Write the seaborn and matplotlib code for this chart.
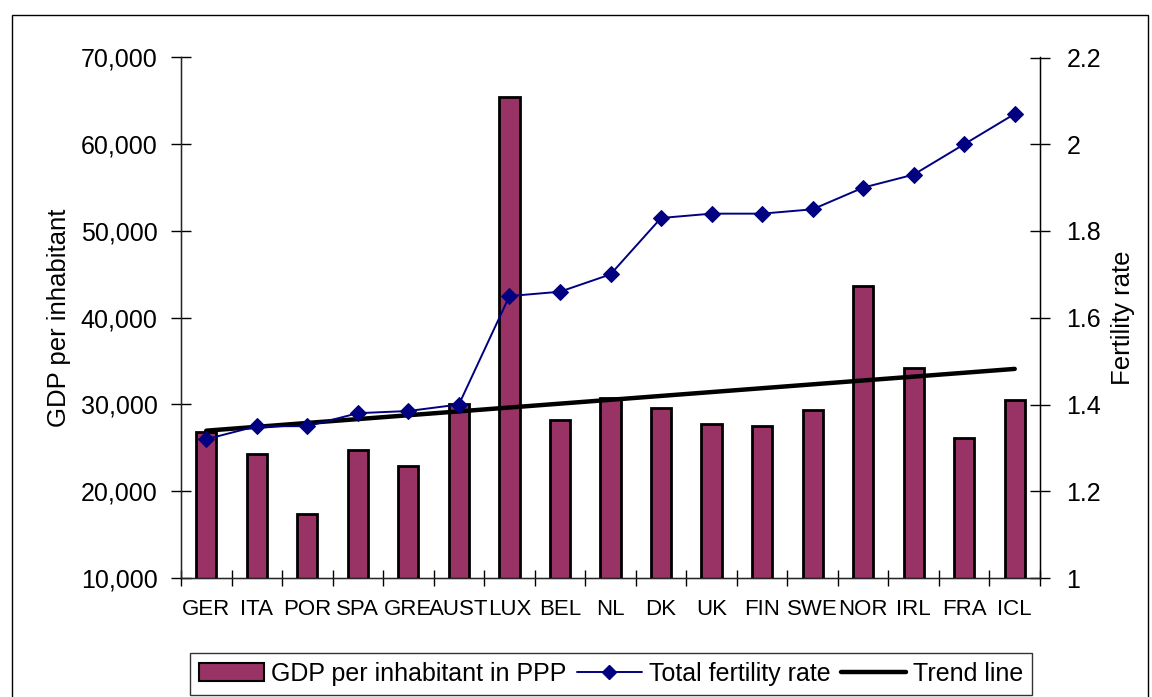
import numpy as np
import pandas as pd
import matplotlib
matplotlib.use("Agg")
import matplotlib.pyplot as plt
import seaborn as sns
from matplotlib.lines import Line2D
from matplotlib.patches import Patch, Rectangle
from matplotlib.ticker import FuncFormatter, FixedLocator

countries = ["GER", "ITA", "POR", "SPA", "GRE", "AUST", "LUX", "BEL", "NL", "DK",
             "UK", "FIN", "SWE", "NOR", "IRL", "FRA", "ICL"]
gdp = [26850, 24280, 17370, 24740, 22900, 30040, 65500, 28200, 30700, 29580,
       27770, 27500, 29350, 43630, 34200, 26120, 30500]
fertility = [1.32, 1.35, 1.35, 1.38, 1.385, 1.40, 1.65, 1.66, 1.70, 1.83,
             1.84, 1.84, 1.85, 1.90, 1.93, 2.00, 2.07]

bar_color = "#993366"
line_color = "#000080"

df = pd.DataFrame({"country": countries, "gdp": gdp, "fertility": fertility})
df["idx"] = np.arange(len(df))

sns.set_style("white")
plt.rcParams["font.family"] = ["Liberation Sans", "DejaVu Sans"]
for k in ["text.color", "axes.labelcolor", "xtick.color", "ytick.color"]:
    plt.rcParams[k] = "black"

fig = plt.figure(figsize=(11.52, 6.97), dpi=100)
ax = fig.add_axes([181 / 1152, 1 - 578 / 697, (1040 - 181) / 1152, (578 - 57.5) / 697])

sns.barplot(data=df, x="country", y="gdp", color=bar_color, saturation=1,
            width=0.4, edgecolor="black", linewidth=2, ax=ax, zorder=2)
ax.set_xlim(-0.5, len(df) - 0.5)
ax.set_ylim(10000, 70000)
ax.set_yticks(np.arange(10000, 70001, 10000))
ax.yaxis.set_major_formatter(FuncFormatter(lambda v, p: f"{int(v):,}"))
ax.set_xticks(df["idx"])
ax.set_xticklabels(countries)
ax.xaxis.set_minor_locator(FixedLocator(np.arange(-0.5, len(df), 1.0)))
ax.tick_params(axis="x", which="major", length=0, pad=15, labelsize=16)
ax.tick_params(axis="x", which="minor", direction="inout", length=11, width=1, bottom=True)
ax.tick_params(axis="y", direction="inout", length=14, width=1, left=True, labelsize=18, pad=10)
ax.set_xlabel("")
ax.set_ylabel("GDP per inhabitant", fontsize=18.5, labelpad=7)

# linear trend of GDP over the countries
coef = np.polyfit(df["idx"], df["gdp"], 1)
trend = np.polyval(coef, df["idx"])
ax.plot(df["idx"], trend, color="black", lw=3.2, zorder=4)

ax.spines["top"].set_visible(False)
for s in ["left", "bottom", "right"]:
    ax.spines[s].set_color("black")
    ax.spines[s].set_linewidth(1)

ax2 = ax.twinx()
sns.lineplot(data=df, x="idx", y="fertility", color=line_color, marker="D",
             markersize=8, markeredgecolor=line_color, lw=1.4, ax=ax2)
ax2.set_ylim(1, 2.2)
ax2.set_yticks(np.arange(1.0, 2.21, 0.2))
ax2.yaxis.set_major_formatter(FuncFormatter(lambda v, p: f"{round(v, 1):g}"))
ax2.tick_params(axis="y", direction="inout", length=14, width=1, right=True, labelsize=18, pad=12)
ax2.set_ylabel("Fertility rate", fontsize=18.5, labelpad=7)
ax2.spines["top"].set_visible(False)
ax2.spines["right"].set_color("black")
ax2.set_xlim(-0.5, len(df) - 0.5)

handles = [
    Patch(facecolor=bar_color, edgecolor="black", linewidth=1.5),
    Line2D([], [], color=line_color, marker="D", markersize=7, lw=1.4),
    Line2D([], [], color="black", lw=3.2),
]
labels = ["GDP per inhabitant in PPP", "Total fertility rate", "Trend line"]
leg = fig.legend(handles, labels, loc="upper center", ncol=3,
                 bbox_to_anchor=(611 / 1152, 1 - 653 / 697), fontsize=18,
                 frameon=True, fancybox=False, edgecolor="black",
                 handlelength=2.6, handletextpad=0.3, columnspacing=0.4,
                 borderpad=0.35, borderaxespad=0)
leg.get_frame().set_linewidth(1)

fig.add_artist(Rectangle((12 / 1152, -0.01), 1136 / 1152, 1 - 15 / 697 + 0.01,
                         transform=fig.transFigure, fill=False,
                         edgecolor="black", lw=1))

fig.savefig("out.png", dpi=100)
